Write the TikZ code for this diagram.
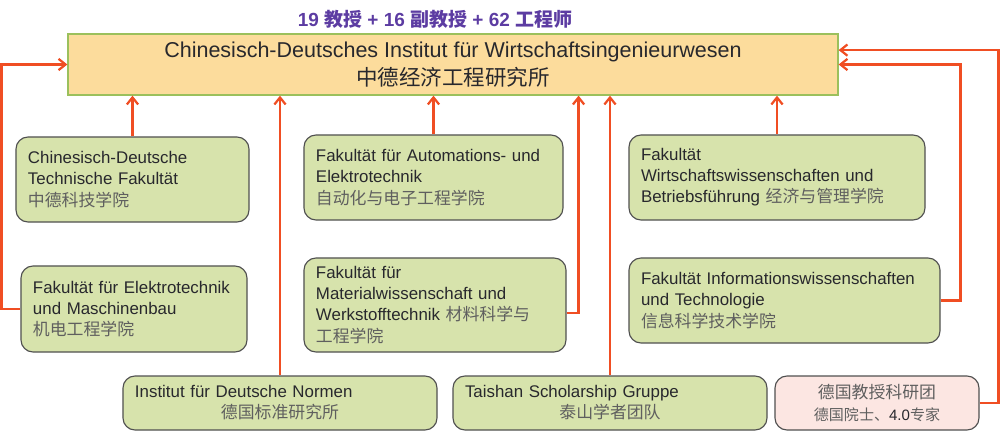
\documentclass[tikz,border=0pt]{standalone}
\usepackage{fontspec}
\setmainfont{Liberation Sans}
\newfontfamily\cjk{Noto Sans CJK SC}
\usetikzlibrary{
    arrows.meta,
    positioning
}
\definecolor{linkorange}{RGB}{240,78,35}
\definecolor{facgreen}{RGB}{215,227,172}
\definecolor{facborder}{RGB}{80,80,80}
\definecolor{instyellow}{RGB}{252,220,156}
\definecolor{instborder}{RGB}{155,192,92}
\definecolor{expertpink}{RGB}{252,230,226}
\definecolor{headpurple}{RGB}{92,60,162}
\definecolor{textdark}{RGB}{40,40,45}
\definecolor{cngray}{RGB}{95,95,95}
\newcommand{\zhtext}[1]{{\cjk\color{cngray}#1}}

\begin{document}
\begin{tikzpicture}[x=0.25mm, y=-0.25mm,
        faculty/.style={draw=facborder, fill=facgreen, line width=0.8pt, rounded corners=3mm,
            align=left, inner xsep=3mm, text=textdark, font=\fontsize{12}{15}\selectfont},
        expert/.style={faculty, fill=expertpink, align=center},
        institute/.style={draw=instborder, fill=instyellow, line width=0.9pt, align=center,
            text=textdark, font=\fontsize{15.3}{20}\selectfont},
        link/.style={draw=linkorange, line width=1.6pt, -{Straight Barb[length=5pt,width=8pt]}}]

    \useasboundingbox (0,0) rectangle (1000,435);

    % head of the institute
    \node[text=headpurple, font=\bfseries\fontsize{13.5}{16}\selectfont] (staff) at (435,19)
        {19 {\cjk 教授} + 16 {\cjk 副教授} + 62 {\cjk 工程师}};
    \node[institute, minimum width=192.5mm, minimum height=15.25mm] (inst) at (453,64.5)
        {Chinesisch-Deutsches Institut für Wirtschaftsingenieurwesen\\{\cjk 中德经济工程研究所}};

    % faculties, upper row
    \node[faculty, text width=52.25mm, minimum height=21.25mm] (cdtf) at (132.5,179.5)
        {Chinesisch-Deutsche\\Technische Fakultät\\\zhtext{中德科技学院}};
    \node[faculty, text width=58.75mm, minimum height=21.25mm] (auto) at (433.5,177.5)
        {Fakultät für Automations- und\\Elektrotechnik\\\zhtext{自动化与电子工程学院}};
    \node[faculty, text width=68mm, minimum height=21.25mm] (wiwi) at (777,177.5)
        {Fakultät\\Wirtschaftswissenschaften und\\Betriebsführung \zhtext{经济与管理学院}};

    % faculties, lower row
    \node[faculty, text width=50.5mm, minimum height=21.5mm] (etmb) at (134,309)
        {Fakultät für Elektrotechnik\\und Maschinenbau\\\zhtext{机电工程学院}};
    \node[faculty, text width=59.5mm, minimum height=23.5mm] (mat) at (435,305)
        {Fakultät für\\Materialwissenschaft und\\Werkstofftechnik \zhtext{材料科学与}\\\zhtext{工程学院}};
    \node[faculty, text width=71.75mm, minimum height=21.25mm] (info) at (784.5,300.5)
        {Fakultät Informationswissenschaften\\und Technologie\\\zhtext{信息科学技术学院}};

    % groups
    \node[faculty, text width=72.5mm, minimum height=13.5mm] (norm) at (280,403)
        {Institut für Deutsche Normen\\\hfill\zhtext{德国标准研究所}\hfill\null};
    \node[faculty, text width=72.5mm, minimum height=13.5mm] (taishan) at (610,403)
        {Taishan Scholarship Gruppe\\\hfill\zhtext{泰山学者团队}\hfill\null};
    \node[expert, text width=45mm, minimum height=13.5mm] (prof) at (877,403)
        {\zhtext{德国教授科研团}\\{\fontsize{10.7}{14}\selectfont\zhtext{德国院士、}4.0\zhtext{专家}}};

    % links to the institute
    \draw[link] (cdtf.north) -- (cdtf.north |- inst.south);
    \draw[link] (auto.north) -- (auto.north |- inst.south);
    \draw[link] (wiwi.north) -- (wiwi.north |- inst.south);
    \draw[link] (norm.north) -- (norm.north |- inst.south);
    \draw[link] (taishan.north) -- (taishan.north |- inst.south);
    \draw[link] (etmb.west) -- ++(-19,0) |- (inst.west);
    \draw[link] ([yshift=-2mm]mat.east) -| ([xshift=3mm]mat.east |- inst.south);
    \draw[link] (info.east) -- ++(20,0) |- (inst.east);
    \draw[link] (prof.east) -- ++(19,0) |- ([yshift=3.6mm]inst.east);
\end{tikzpicture}
\end{document}
